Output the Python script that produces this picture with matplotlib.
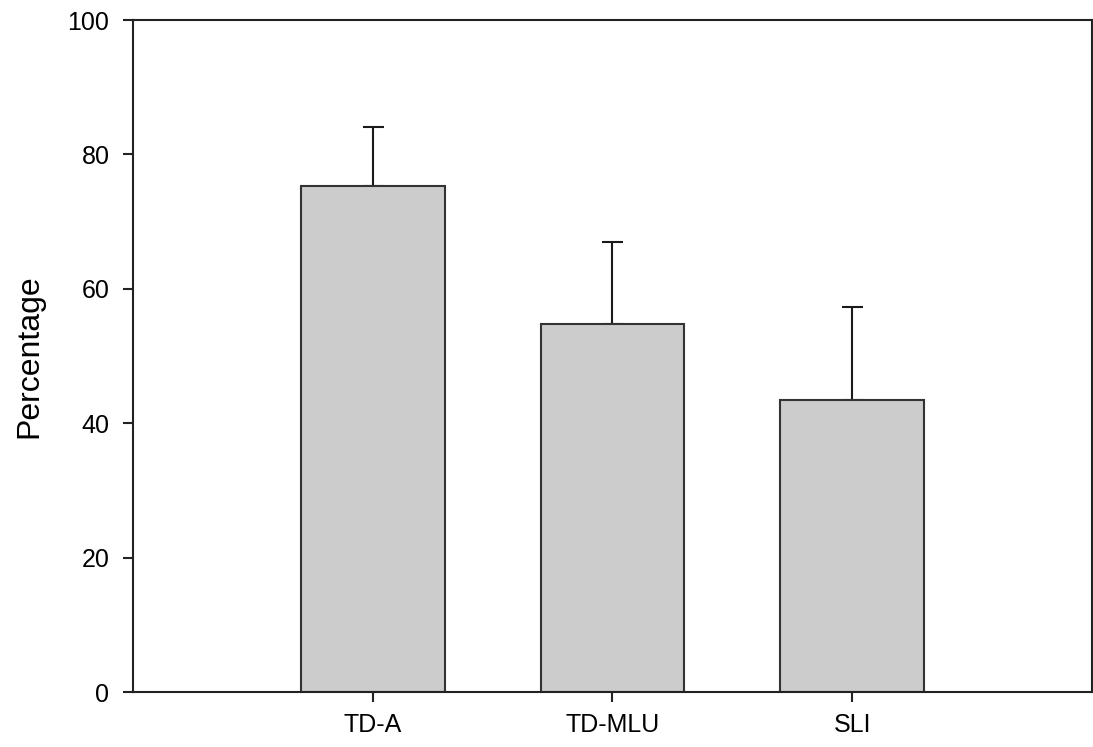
import numpy as np
import matplotlib
matplotlib.use("Agg")
import matplotlib.pyplot as plt

plt.rcParams['font.family'] = ['Liberation Sans', 'DejaVu Sans']

# values
groups = ['TD-A', 'TD-MLU', 'SLI']
means = [75.3, 54.7, 43.5]
sd = [8.8, 12.3, 13.8]

fig = plt.figure(figsize=(10.93, 7.47), dpi=100)
ax = fig.add_axes([0.1217, 0.0736, 0.8773, 0.8996])

pos = np.arange(1, len(groups) + 1)
ax.bar(pos, means, width=0.6, color='#cccccc', edgecolor='#333333', linewidth=1.5, zorder=2)
ax.errorbar(pos, means, yerr=[np.zeros(len(sd)), sd], fmt='none', ecolor='#1a1a1a',
            elinewidth=1.5, capsize=10.5 * 72 / 100, capthick=1.5, zorder=1)

ax.set_xlim(0, 4)
ax.set_ylim(0, 100)
ax.set_xticks(pos)
ax.set_xticklabels(groups)
ax.set_yticks(np.arange(0, 101, 20))
ax.tick_params(axis='both', direction='out', length=7, width=1.5, labelsize=18,
               colors='#222222', labelcolor='black')
ax.tick_params(axis='y', pad=10)
ax.tick_params(axis='x', pad=8)
ax.set_ylabel('Percentage', fontsize=23, labelpad=17)

for s in ax.spines.values():
    s.set_linewidth(1.5)
    s.set_color('#222222')

fig.savefig('out.png', dpi=100)
